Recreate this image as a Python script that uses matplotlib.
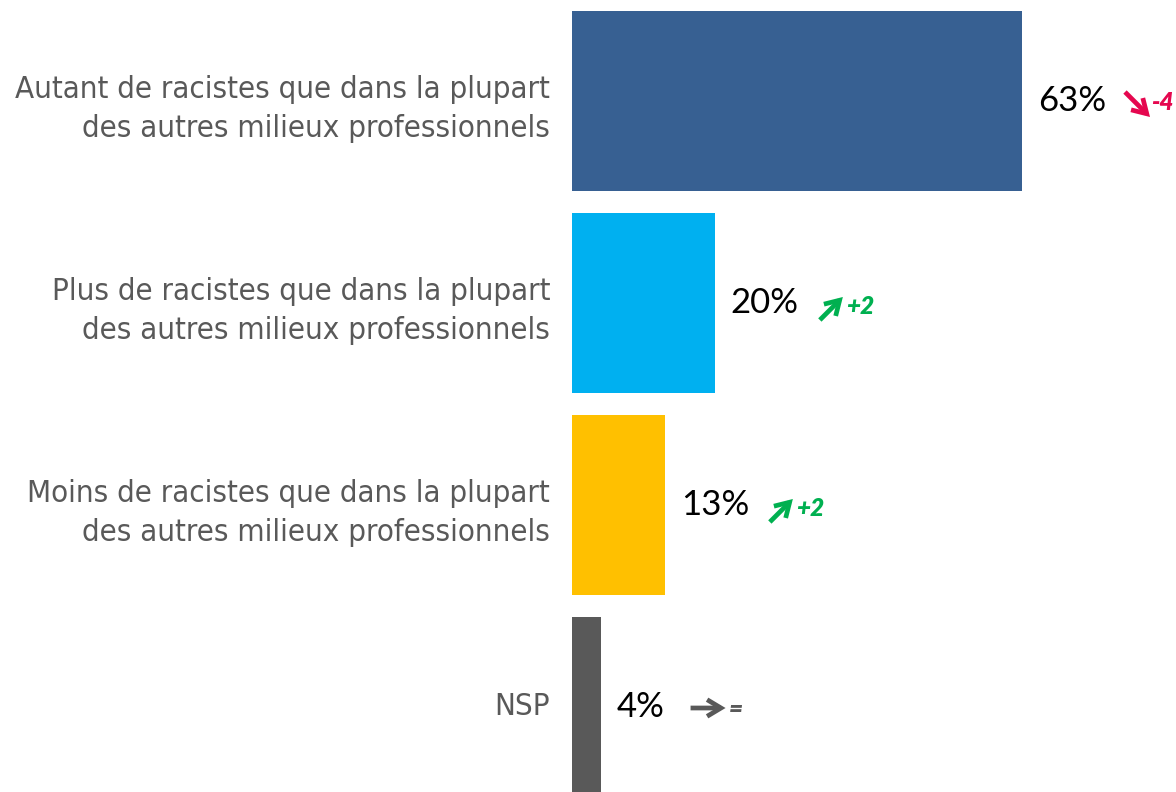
import matplotlib
matplotlib.use("Agg")
import matplotlib.pyplot as plt
from matplotlib.transforms import offset_copy

# Survey answers and their shares (%), with change versus previous wave
categories = [
    "Autant de racistes que dans la plupart\ndes autres milieux professionnels",
    "Plus de racistes que dans la plupart\ndes autres milieux professionnels",
    "Moins de racistes que dans la plupart\ndes autres milieux professionnels",
    "NSP",
]
values = [63, 20, 13, 4]
deltas = ["-4", "+2", "+2", "="]
bar_colors = ["#376092", "#00B0F0", "#FFC000", "#595959"]

TEXT_GREY = "#595959"
UP_COLOR = "#00B050"
DOWN_COLOR = "#E5074F"
FLAT_COLOR = "#595959"

W, H = 1176, 792
fig = plt.figure(figsize=(W / 100, H / 100), dpi=100)
ax = fig.add_axes([572 / W, 0, 1 - 572 / W, 1])

px_per_pct = 450 / 63
ax.set_xlim(0, (W - 572) / px_per_pct)
ax.set_ylim((H - 101) / 202, -101 / 202)

ypos = list(range(len(values)))
ax.barh(ypos, values, height=180 / 202, color=bar_colors, align="center")

for spine in ax.spines.values():
    spine.set_visible(False)
ax.set_xticks([])
ax.set_yticks([])


def shifted(dx, dy):
    # offset in pixels (dy positive = downward on screen)
    return offset_copy(ax.transData, fig=fig, x=dx, y=-dy, units="dots")


# Category labels: one text per line, placed on explicit baselines
LINE_GAP = 39
for y, cat in zip(ypos, categories):
    lines = cat.split("\n")
    n = len(lines)
    first = 8 if n == 1 else 16.5
    for k, line in enumerate(lines):
        dy = first + LINE_GAP * (k - (n - 1) / 2)
        ax.text(0, y, line, transform=shifted(-22, dy), ha="right",
                va="baseline", fontsize=22.4, color=TEXT_GREY,
                family="DejaVu Sans", fontstretch="condensed")

for y, v, d in zip(ypos, values, deltas):
    ax.annotate(f"{v}%", xy=(v, y), xycoords="data", xytext=(16, 0),
                textcoords="offset pixels", ha="left", va="center",
                fontsize=25, color="black", family="Lato")
    if d.startswith("-"):
        col, tail, tip = DOWN_COLOR, (103, -9), (128, 16)
        tdx, tdy = 129, 1
    elif d.startswith("+"):
        col, tail, tip = UP_COLOR, (105, 17), (128, -6)
        tdx, tdy = 131, 4
    else:
        col, tail, tip = FLAT_COLOR, (90, 1), (125, 1)
        tdx, tdy = 128, 3
    ax.annotate("", xy=(v, y), xycoords=shifted(*tip),
                xytext=(v, y), textcoords=shifted(*tail),
                arrowprops=dict(arrowstyle="->,head_length=1.0,head_width=0.6",
                                lw=3.4, color=col, shrinkA=0, shrinkB=0,
                                joinstyle="miter", capstyle="butt"))
    ax.text(v, y, d, transform=shifted(tdx, tdy), ha="left", va="center",
            fontsize=17.5, color=col, fontweight="heavy", fontstyle="italic",
            family="Lato")

fig.savefig("out.png", dpi=100)
